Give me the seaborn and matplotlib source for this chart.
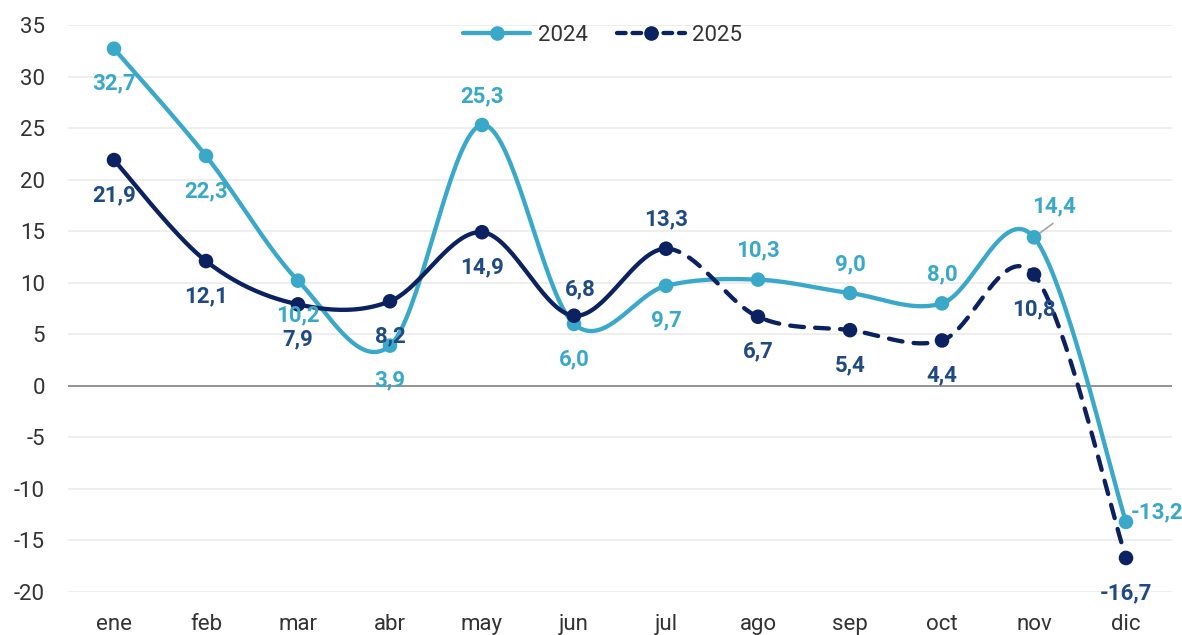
import numpy as np
import pandas as pd
import matplotlib
matplotlib.use("Agg")
import matplotlib.pyplot as plt
from matplotlib.lines import Line2D
import seaborn as sns

months = ["ene", "feb", "mar", "abr", "may", "jun", "jul", "ago", "sep", "oct", "nov", "dic"]
v2024 = [32.7, 22.3, 10.2, 3.9, 25.3, 6.0, 9.7, 10.3, 9.0, 8.0, 14.4, -13.2]
v2025 = [21.9, 12.1, 7.9, 8.2, 14.9, 6.8, 13.3, 6.7, 5.4, 4.4, 10.8, -16.7]
yticks = [-20, -15, -10, -5, 0, 5, 10, 15, 20, 25, 30, 35]

# label placement keys
pos2024 = ["b", "b", "b", "b", "a", "b", "b", "a", "a", "a", "nov", "dic"]
pos2025 = ["b", "b", "b", "b", "b", "jun", "a", "b", "b", "b", "b", "b"]

C24 = "#3AA9C9"
C25 = "#0B2160"
L25 = "#1F4A85"

sns.set_theme(style="white")
plt.rcParams["font.family"] = ["Roboto", "DejaVu Sans"]

fig = plt.figure(figsize=(11.82, 6.35), dpi=100)
ax = fig.add_axes([68 / 1182, 1 - 592 / 635, (1172 - 68) / 1182, (592 - 25) / 635])

x = np.arange(len(months))


def smooth(xs, ys, n=40):
    p = np.column_stack([xs, ys]).astype(float)
    out = []
    for i in range(len(p) - 1):
        P0 = p[i - 1] if i > 0 else p[i]
        P1 = p[i]
        P2 = p[i + 1]
        P3 = p[i + 2] if i + 2 < len(p) else p[i + 1]
        c1 = P1 + (P2 - P0) / 6
        c2 = P2 - (P3 - P1) / 6
        t = np.linspace(0, 1, n)[:, None]
        seg = (1 - t) ** 3 * P1 + 3 * (1 - t) ** 2 * t * c1 + 3 * (1 - t) * t ** 2 * c2 + t ** 3 * P2
        if i > 0:
            seg = seg[1:]
        out.append(seg)
    return np.vstack(out)


# grid
for yt in yticks:
    ax.axhline(yt, color="#EBEBEB", lw=1.2, zorder=0)
ax.axhline(0, color="#8C8C8C", lw=1.3, zorder=1)

# 2024 smooth line
c24 = smooth(x, v2024)
ax.plot(c24[:, 0], c24[:, 1], color=C24, lw=3.1, solid_capstyle="round", zorder=2)

# 2025 smooth line: solid to jul, dashed afterwards
c25 = smooth(x, v2025)
n_seg = 39
split = 6 * n_seg
ax.plot(c25[: split + 1, 0], c25[: split + 1, 1], color=C25, lw=3.1, solid_capstyle="round", zorder=3)
ax.plot(c25[split:, 0], c25[split:, 1], color=C25, lw=3.1, dashes=(3.2, 2.6),
        dash_capstyle="round", zorder=3)

df = pd.DataFrame({"x": np.concatenate([x, x]),
                   "y": v2024 + v2025,
                   "serie": ["2024"] * 12 + ["2025"] * 12})
sns.scatterplot(data=df[df.serie == "2024"], x="x", y="y", color=C24, s=110,
                edgecolor="none", ax=ax, zorder=4, legend=False)
sns.scatterplot(data=df[df.serie == "2025"], x="x", y="y", color=C25, s=110,
                edgecolor="none", ax=ax, zorder=5, legend=False)

offsets = {"b": (0, -35), "a": (0, 29), "nov": (20, 31), "dic": (5, 10), "jun": (6, 26)}


def fmt(v):
    return f"{v:.1f}".replace(".", ",")


for i, v in enumerate(v2024):
    key = pos2024[i]
    dx, dy = offsets[key]
    ha = "left" if key == "dic" else "center"
    ax.annotate(fmt(v), (x[i], v), xytext=(dx, dy), textcoords="offset pixels",
                ha=ha, va="center", color=C24, fontsize=16, fontweight="bold", zorder=6)
    if key == "nov":
        ax.annotate("", (x[i], v), xytext=(19, 14), textcoords="offset pixels",
                    arrowprops=dict(arrowstyle="-", color="#A6A6A6", lw=1.2,
                                    shrinkA=0, shrinkB=0), zorder=3)

for i, v in enumerate(v2025):
    dx, dy = offsets[pos2025[i]]
    ax.annotate(fmt(v), (x[i], v), xytext=(dx, dy), textcoords="offset pixels",
                ha="center", va="center", color=L25, fontsize=16, fontweight="bold", zorder=6)

ax.set_xlim(-0.5, 11.5)
ax.set_ylim(-20, 35)
ax.set_xticks(x)
ax.set_xticklabels(months)
ax.set_yticks(yticks)
ax.set_yticklabels([str(t) for t in yticks])
ax.tick_params(axis="both", length=0, labelsize=16, colors="#333333")
ax.tick_params(axis="y", pad=16.5)
ax.tick_params(axis="x", pad=16)
ax.set_xlabel("")
ax.set_ylabel("")
for s in ax.spines.values():
    s.set_visible(False)

handles = [
    Line2D([0], [0], color=C24, lw=3.1, marker="o", markersize=9.5, solid_capstyle="round"),
    Line2D([0], [0], color=C25, lw=3.1, marker="o", markersize=9.5, dashes=(2.0, 1.6),
           dash_capstyle="round"),
]
leg = ax.legend(handles, ["2024", "2025"], loc="center", bbox_to_anchor=(0.4841, 0.981),
                ncol=2, frameon=False, fontsize=16, handlelength=3.05, columnspacing=1.35,
                handletextpad=0.32)
for t in leg.get_texts():
    t.set_color("#333333")

fig.savefig("out.png", dpi=100, facecolor="white")
